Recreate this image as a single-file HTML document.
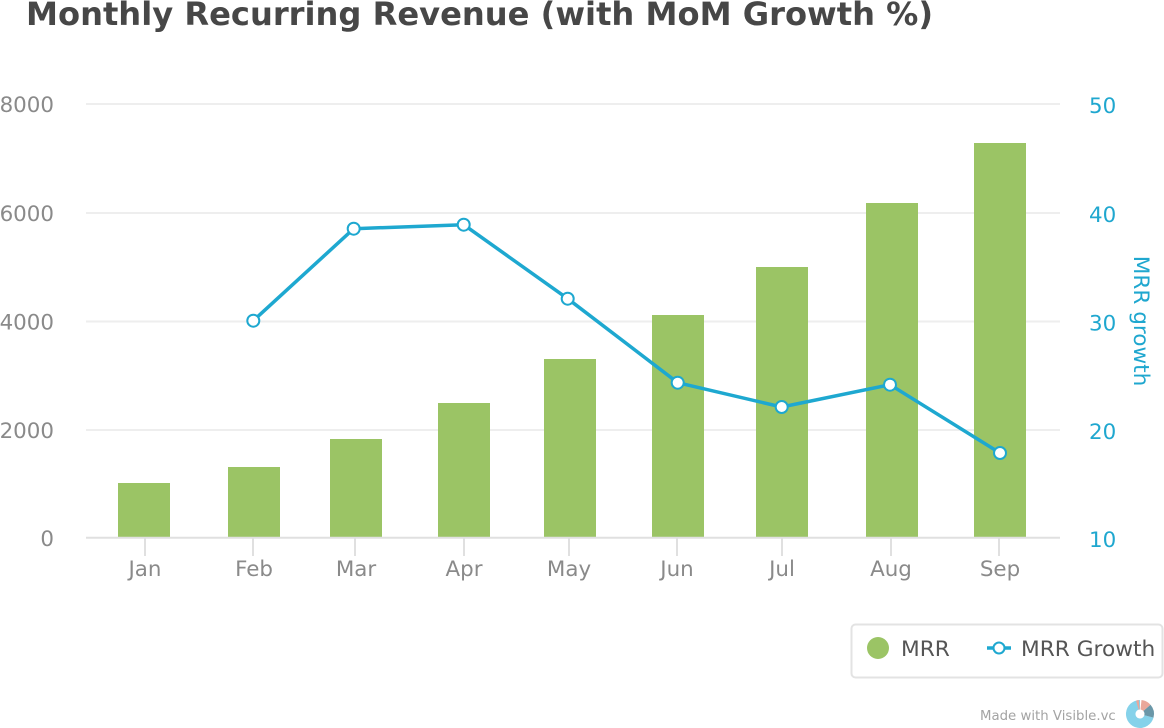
<!DOCTYPE html>
<html>
<head>
<meta charset="utf-8">
<style>
  html, body { margin: 0; padding: 0; background: #ffffff; }
  svg { display: block; }
  text { font-family: "DejaVu Sans", "Liberation Sans", sans-serif; }
</style>
</head>
<body>
<svg width="1164" height="728" viewBox="0 0 1164 728" xmlns="http://www.w3.org/2000/svg">
  <rect width="1164" height="728" fill="#ffffff"/>

  <!-- Title -->
  <text x="26" y="25" font-size="32.15" font-weight="bold" fill="#474747">Monthly Recurring Revenue (with MoM Growth %)</text>

  <!-- Grid lines -->
  <g stroke="#eeeeee" stroke-width="2">
    <line x1="86" y1="104" x2="1060" y2="104"/>
    <line x1="86" y1="213" x2="1060" y2="213"/>
    <line x1="86" y1="321.5" x2="1060" y2="321.5"/>
    <line x1="86" y1="430" x2="1060" y2="430"/>
  </g>

  <!-- Left axis labels -->
  <g font-size="21.4" fill="#8a8a8a" text-anchor="end">
    <text x="54" y="112">8000</text>
    <text x="54" y="221">6000</text>
    <text x="54" y="329.5">4000</text>
    <text x="54" y="438">2000</text>
    <text x="54" y="546">0</text>
  </g>

  <!-- Right axis labels -->
  <g font-size="21.4" fill="#1fa7cf" text-anchor="start">
    <text x="1089" y="113">50</text>
    <text x="1089" y="222">40</text>
    <text x="1089" y="330.5">30</text>
    <text x="1089" y="439">20</text>
    <text x="1089" y="547">10</text>
  </g>
  <text transform="translate(1134,321) rotate(90)" font-size="21.6" fill="#1fa7cf" text-anchor="middle">MRR growth</text>

  <!-- Bars -->
  <g fill="#9bc465">
    <rect x="118" y="483" width="52" height="55"/>
    <rect x="228" y="467" width="52" height="71"/>
    <rect x="330" y="439" width="52" height="99"/>
    <rect x="438" y="403" width="52" height="135"/>
    <rect x="544" y="359" width="52" height="179"/>
    <rect x="652" y="315" width="52" height="223"/>
    <rect x="756" y="267" width="52" height="271"/>
    <rect x="866" y="203" width="52" height="335"/>
    <rect x="974" y="143" width="52" height="395"/>
  </g>

  <!-- X axis line and ticks -->
  <line x1="86" y1="537.8" x2="1060" y2="537.8" stroke="#e0e0e0" stroke-width="2"/>
  <g stroke="#e0e0e0" stroke-width="2">
    <line x1="145" y1="538" x2="145" y2="556"/>
    <line x1="253" y1="538" x2="253" y2="556"/>
    <line x1="355" y1="538" x2="355" y2="556"/>
    <line x1="464" y1="538" x2="464" y2="556"/>
    <line x1="569" y1="538" x2="569" y2="556"/>
    <line x1="677" y1="538" x2="677" y2="556"/>
    <line x1="782" y1="538" x2="782" y2="556"/>
    <line x1="891" y1="538" x2="891" y2="556"/>
    <line x1="999" y1="538" x2="999" y2="556"/>
  </g>

  <!-- X labels -->
  <g font-size="21.4" fill="#8a8a8a" text-anchor="middle">
    <text x="145" y="576">Jan</text>
    <text x="254" y="576">Feb</text>
    <text x="356" y="576">Mar</text>
    <text x="464" y="576">Apr</text>
    <text x="569" y="576">May</text>
    <text x="677" y="576">Jun</text>
    <text x="782" y="576">Jul</text>
    <text x="891" y="576">Aug</text>
    <text x="1000" y="576">Sep</text>
  </g>

  <!-- Growth line -->
  <polyline points="253.3,320.7 353.7,228.7 463.7,224.7 567.7,298.7 677.7,382.7 781.7,407 890,384.7 1000,453"
            fill="none" stroke="#1ea8d0" stroke-width="3.5" stroke-linejoin="round" stroke-linecap="round"/>
  <g fill="#ffffff" stroke="#1ea8d0" stroke-width="2">
    <circle cx="253.3" cy="320.7" r="6"/>
    <circle cx="353.7" cy="228.7" r="6"/>
    <circle cx="463.7" cy="224.7" r="6"/>
    <circle cx="567.7" cy="298.7" r="6"/>
    <circle cx="677.7" cy="382.7" r="6"/>
    <circle cx="781.7" cy="407" r="6"/>
    <circle cx="890" cy="384.7" r="6"/>
    <circle cx="1000" cy="453" r="6"/>
  </g>

  <!-- Legend -->
  <rect x="851.5" y="624.5" width="311" height="53" rx="4" ry="4" fill="#ffffff" stroke="#e3e3e3" stroke-width="2"/>
  <circle cx="878" cy="648" r="11" fill="#9bc465"/>
  <text x="901" y="656" font-size="21.7" fill="#555555">MRR</text>
  <line x1="987" y1="648" x2="1011" y2="648" stroke="#1ea8d0" stroke-width="3.5"/>
  <circle cx="999" cy="648" r="5.5" fill="#ffffff" stroke="#1ea8d0" stroke-width="2"/>
  <text x="1021" y="656" font-size="21.7" fill="#555555">MRR Growth</text>

  <!-- Footer -->
  <text x="980" y="720" font-size="13.3" fill="#a3a3a3">Made with Visible.vc</text>
  <g transform="translate(1140,714)">
    <!-- blue majority -->
    <path d="M0,-14 A14,14 0 1 0 13.5,3.6 L4.3,1.2 A4.5,4.5 0 1 1 0,-4.5 Z" fill="#85d2ea"/>
    <!-- pink segment -->
    <path d="M1.5,-14 A14,14 0 0 1 10.5,-9.3 L3.4,-3 A4.5,4.5 0 0 0 0.5,-4.5 Z" fill="#e9a79a"/>
    <!-- dark segment -->
    <path d="M10.5,-9.3 A14,14 0 0 1 13.5,3.6 L4.3,1.2 A4.5,4.5 0 0 0 3.4,-3 Z" fill="#6a97a8"/>
    <!-- small pink sliver left of top gap -->
    <path d="M-4,-13.4 A14,14 0 0 1 -1.2,-14 L-0.4,-4.5 A4.5,4.5 0 0 0 -1.3,-4.3 Z" fill="#e9a79a"/>
  </g>
</svg>
</body>
</html>
